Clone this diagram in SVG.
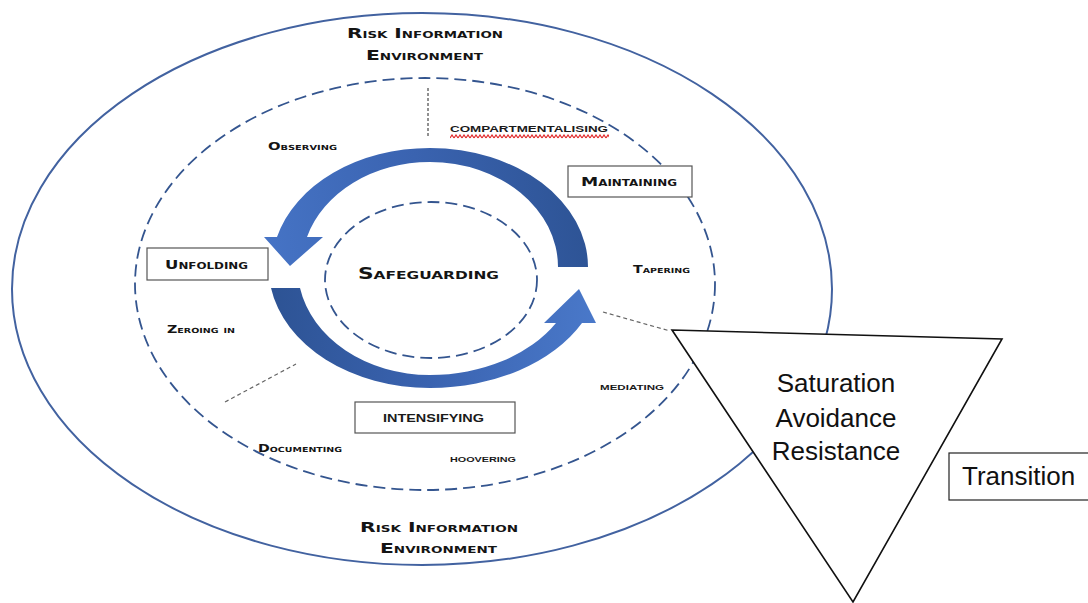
<svg xmlns="http://www.w3.org/2000/svg" width="1088" height="603" viewBox="0 0 1088 603">
<style>
.cp{font-family:"DejaVu Sans","Liberation Sans",sans-serif;font-weight:bold;font-variant:small-caps;fill:#141414}
.ar{font-family:"Liberation Sans",Arial,sans-serif;font-weight:bold;font-variant:small-caps;fill:#1a1a1a}
.big{font-family:"Liberation Sans",Arial,sans-serif;font-size:26px;fill:#111}
.dash{fill:none;stroke:#34558f;stroke-width:1.8;stroke-dasharray:12 6}
.dot{fill:none;stroke:#666;stroke-width:1.2;stroke-dasharray:4 3}
.box{fill:#fff;stroke:#555;stroke-width:1.2}
</style>
<defs>
<linearGradient id="gTop" gradientUnits="userSpaceOnUse" x1="590" y1="200" x2="260" y2="250">
<stop offset="0" stop-color="#2d5394"/>
<stop offset="0.5" stop-color="#3a63b0"/>
<stop offset="1" stop-color="#4674c6"/>
</linearGradient>
<linearGradient id="gBot" gradientUnits="userSpaceOnUse" x1="270" y1="300" x2="600" y2="320">
<stop offset="0" stop-color="#2d5394"/>
<stop offset="0.5" stop-color="#3a63b0"/>
<stop offset="1" stop-color="#4a79ca"/>
</linearGradient>
<pattern id="wave" patternUnits="userSpaceOnUse" x="450" y="134" width="4" height="5">
<path d="M0 4 L2 1 L4 4" fill="none" stroke="#e02828" stroke-width="1.2"/>
</pattern>
</defs>
<rect width="1088" height="603" fill="#fff"/>

<g id="environment">
<ellipse cx="422" cy="289" rx="410" ry="276" fill="#fff" stroke="#4262a0" stroke-width="2"/>
<text class="cp" x="347" y="38" font-size="13.5" textLength="156" lengthAdjust="spacingAndGlyphs">Risk Information</text>
<text class="cp" x="366" y="60" font-size="13.5" textLength="117" lengthAdjust="spacingAndGlyphs">Environment</text>
<text class="cp" x="360" y="532" font-size="13.5" textLength="158" lengthAdjust="spacingAndGlyphs">Risk Information</text>
<text class="cp" x="380" y="553" font-size="13.5" textLength="117" lengthAdjust="spacingAndGlyphs">Environment</text>
</g>

<g id="practices">
<ellipse cx="425" cy="284" rx="290" ry="206" class="dash"/>
<text class="cp" x="268" y="150" font-size="10.5" textLength="69" lengthAdjust="spacingAndGlyphs">Observing</text>
<text class="ar" x="450" y="132" font-size="13" textLength="158" lengthAdjust="spacingAndGlyphs">compartmentalising</text>
<rect x="450" y="134" width="159" height="5" fill="url(#wave)"/>
<text class="cp" x="633" y="273" font-size="10.5" textLength="57" lengthAdjust="spacingAndGlyphs">Tapering</text>
<text class="cp" x="167" y="333" font-size="10.5" textLength="68" lengthAdjust="spacingAndGlyphs">Zeroing in</text>
<text class="ar" x="600" y="390" font-size="11.5" textLength="64" lengthAdjust="spacingAndGlyphs">mediating</text>
<text class="cp" x="258" y="452" font-size="10.5" textLength="84" lengthAdjust="spacingAndGlyphs">Documenting</text>
<text class="ar" x="450" y="462" font-size="12" textLength="66" lengthAdjust="spacingAndGlyphs">hoovering</text>
</g>

<g id="safeguarding">
<ellipse cx="431" cy="280" rx="106" ry="78" class="dash" stroke-dasharray="10 6"/>
<text class="cp" x="358" y="279" font-size="15.5" textLength="141" lengthAdjust="spacingAndGlyphs">Safeguarding</text>
</g>

<g id="connectors">
<path d="M588 267 A158 119 0 0 0 430 148 A158 119 0 0 0 277 237 L264 237 L290 266 L323 237 L307 237 A128 105 0 0 1 430 162 A128 105 0 0 1 558 267 Z" fill="url(#gTop)"/>
<path d="M271 288 A161 120 0 0 0 430 388 A171 120 0 0 0 582 323 L596 323 L579 289 L544 323 L556 323 A147 107 0 0 1 430 375 A132 107 0 0 1 300 288 Z" fill="url(#gBot)"/>
<line x1="428" y1="88" x2="428" y2="137" stroke="#222" stroke-width="1" stroke-dasharray="3 2"/>
<line x1="225" y1="402" x2="296" y2="364" class="dot"/>
<line x1="603" y1="312" x2="670" y2="331" class="dot"/>
</g>

<g id="maintaining">
<rect x="568" y="166" width="124" height="31" class="box" stroke="#6a7896"/>
<text class="cp" x="581" y="186" font-size="13" textLength="96" lengthAdjust="spacingAndGlyphs">Maintaining</text>
</g>
<g id="unfolding">
<rect x="147" y="248" width="121" height="32" class="box" stroke="#222"/>
<text class="cp" x="165" y="269" font-size="12.5" textLength="83" lengthAdjust="spacingAndGlyphs">Unfolding</text>
</g>
<g id="intensifying">
<rect x="355" y="402" width="160" height="31" class="box" stroke="#444"/>
<text class="ar" x="383" y="422" font-size="15.5" textLength="101" lengthAdjust="spacingAndGlyphs">intensifying</text>
</g>

<g id="transition-triangle">
<polygon points="672,330 1002,339 853,602" fill="#fff" stroke="#111" stroke-width="1.6" stroke-linejoin="miter"/>
<text class="big" x="836" y="392" text-anchor="middle">Saturation</text>
<text class="big" x="836" y="427" text-anchor="middle">Avoidance</text>
<text class="big" x="836" y="460" text-anchor="middle">Resistance</text>
</g>

<g id="transition">
<rect x="949" y="453" width="142" height="47" fill="#fff" stroke="#222" stroke-width="1.2"/>
<text class="big" x="962" y="485">Transition</text>
</g>
</svg>
